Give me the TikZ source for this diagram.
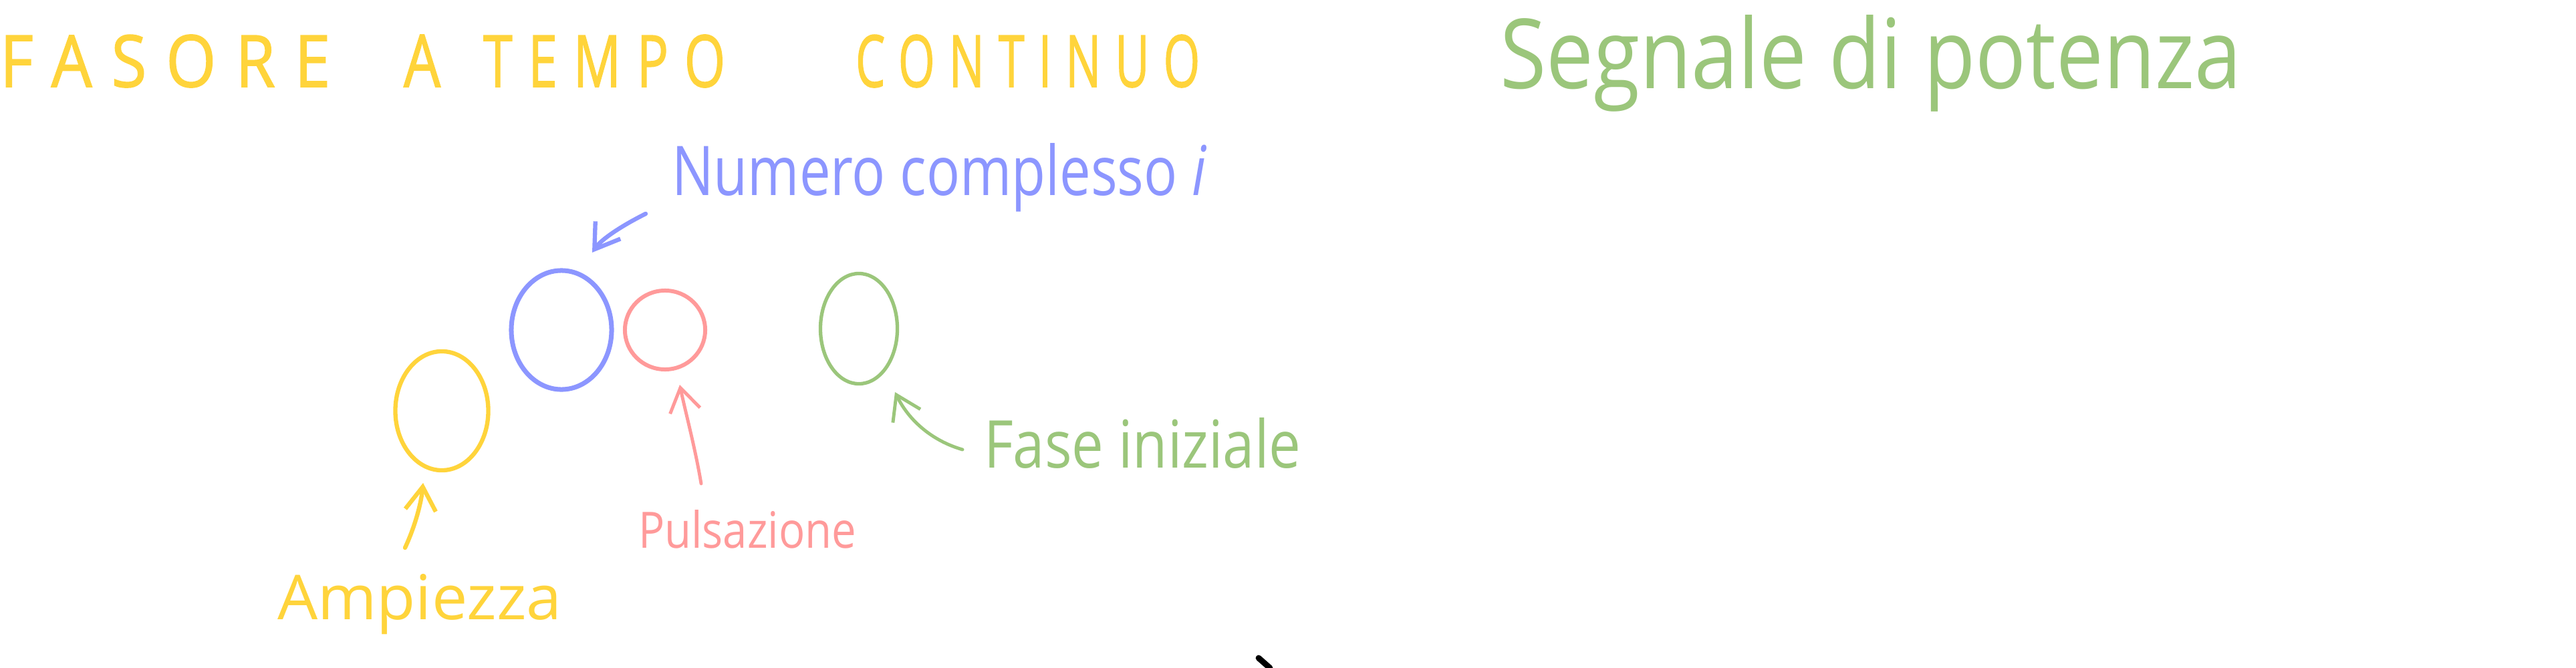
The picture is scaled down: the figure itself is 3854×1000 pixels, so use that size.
\documentclass[tikz,border=0pt]{standalone}
\usepackage{fontspec}
\setmainfont{Open Sans}
\usetikzlibrary{shapes.geometric,arrows.meta}
\definecolor{hyellow}{HTML}{FFD43B}
\definecolor{hblue}{HTML}{8C96FF}
\definecolor{hpink}{HTML}{FF9A9A}
\definecolor{hgreen}{HTML}{9BC67B}
\begin{document}
\begin{tikzpicture}[x=0.01cm,y=-0.01cm,
  lbl/.style={anchor=base west, inner sep=0pt, outer sep=0pt},
  blob/.style={ellipse, draw, inner sep=0pt},
  harrow/.style={-{Straight Barb[length=10pt,width=13pt]}, line width=1.4pt, line cap=round},
  titlefont/.style={text=hyellow, font=\addfontfeature{LetterSpace=30,FakeBold=1.5}}
]
\useasboundingbox[fill=white] (0,0) rectangle (3854,1000);

% title
\node[lbl, titlefont] (t1) at (0,130) {\resizebox{4.94cm}{0.78cm}{FASORE}};
\node[lbl, titlefont] (t2) at (604,130) {\resizebox{0.55cm}{0.78cm}{A}};
\node[lbl, titlefont] (t3) at (723,130) {\resizebox{3.62cm}{0.78cm}{TEMPO}};
\node[lbl, titlefont] (t4) at (1280,130) {\resizebox{5.15cm}{0.78cm}{CONTINUO}};

\node[lbl, text=hgreen] (seg) at (2244,133) {\resizebox{11.09cm}{1.1cm}{Segnale di potenza}};

% circles
\node[blob, draw=hblue, line width=2pt, minimum width=1.5cm, minimum height=1.78cm] (cb) at (840,494) {};
\node[blob, draw=hpink, line width=1.7pt, minimum width=1.2cm, minimum height=1.18cm] (cp) at (995,494) {};
\node[blob, draw=hgreen, line width=1.5pt, minimum width=1.15cm, minimum height=1.65cm] (cg) at (1285,492) {};
\node[blob, draw=hyellow, line width=1.8pt, minimum width=1.39cm, minimum height=1.78cm] (cy) at (661,615) {};

% labels
\node[lbl, text=hblue] (num) at (1005,292) {\resizebox{8.0cm}{0.78cm}{Numero complesso \textit{i}}};
\node[lbl, text=hyellow] (amp) at (415,927) {\resizebox{4.25cm}{0.68cm}{Ampiezza}};
\node[lbl, text=hpink] (pul) at (955,820) {\resizebox{3.26cm}{0.57cm}{Pulsazione}};
\node[lbl, text=hgreen] (fas) at (1472,700) {\resizebox{4.74cm}{0.75cm}{Fase iniziale}};

% arrow ends
\coordinate (btail) at (966,320);
\coordinate (btip) at (886,378);
\coordinate (ytail) at (606,820);
\coordinate (ytip) at (633,723);
\coordinate (ptail) at (1049,724);
\coordinate (ptip) at (1017,576);
\coordinate (gtail) at (1440,673);
\coordinate (gtip) at (1339,587);

\draw[harrow, hblue, line width=1.8pt] (btail) .. controls (930,338) and (900,358) .. (btip);
\draw[harrow, hyellow, line width=1.8pt] (ytail) .. controls (620,790) and (630,755) .. (ytip);
\draw[harrow, hpink] (ptail) .. controls (1040,670) and (1025,615) .. (ptip);
\draw[harrow, hgreen] (gtail) .. controls (1395,660) and (1360,630) .. (gtip);

% small stray mark
\draw[line width=2.5pt, line cap=round] (1883,985) -- (1900,1000);
\end{tikzpicture}
\end{document}
